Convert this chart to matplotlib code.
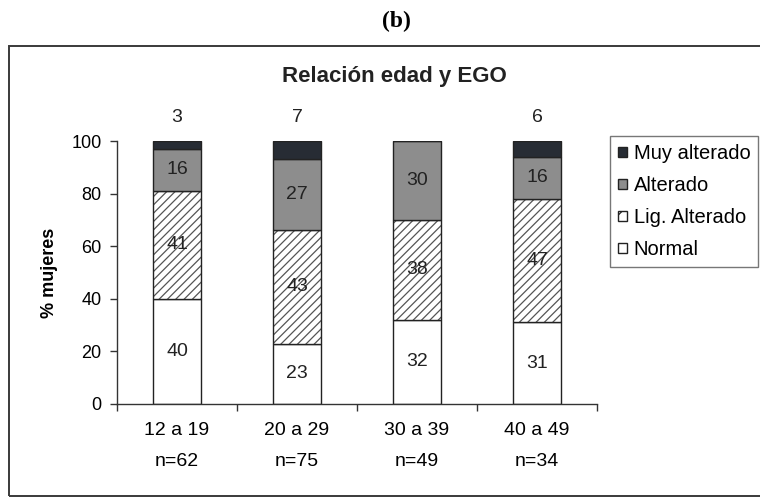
import matplotlib
matplotlib.use("Agg")
import matplotlib.pyplot as plt
from matplotlib.patches import Rectangle, Patch
import numpy as np

plt.rcParams['font.family'] = ['Liberation Sans', 'DejaVu Sans']
plt.rcParams['hatch.linewidth'] = 0.9

# Data: % of women by age group and EGO result
groups = ["12 a 19", "20 a 29", "30 a 39", "40 a 49"]
sizes = ["n=62", "n=75", "n=49", "n=34"]
normal = [40, 23, 32, 31]
lig_alterado = [41, 43, 38, 47]
alterado = [16, 27, 30, 16]
muy_alterado = [3, 7, 0, 6]

W, H = 760, 503
fig = plt.figure(figsize=(W / 100, H / 100), dpi=100)

# outer frame of the chart (right edge runs off the page)
fig.patches.append(Rectangle((9 / W, 1 - 496 / H), (770 - 9) / W, (496 - 46) / H,
                             transform=fig.transFigure, fill=False,
                             edgecolor="#3a3a3a", linewidth=1.4))

fig.text(396 / W, 1 - 21 / H, "(b)", ha="center", va="center",
         fontsize=17, fontweight="bold", family="Liberation Serif")
fig.text(394 / W, 1 - 82 / H, "Relación edad y EGO", ha="center", va="baseline",
         fontsize=16, fontweight="bold", color="#222222")

ax = fig.add_axes([117 / W, 1 - 404 / H, (597 - 117) / W, (404 - 141) / H])
x = np.arange(len(groups))
bw = 0.4

n = np.array(normal)
lg = np.array(lig_alterado)
al = np.array(alterado)
mu = np.array(muy_alterado)

edge = "#222222"
ax.bar(x, n, bw, color="white", edgecolor=edge, linewidth=1.0)
# hatched layer, then its outline
ax.bar(x, lg, bw, bottom=n, color="white", edgecolor="#555555", hatch="////", linewidth=0)
ax.bar(x, lg, bw, bottom=n, fill=False, edgecolor=edge, linewidth=1.0)
ax.bar(x, al, bw, bottom=n + lg, color="#8d8d8d", edgecolor=edge, linewidth=1.0)
ax.bar(x, mu, bw, bottom=n + lg + al, color="#272c34", edgecolor=edge, linewidth=1.0)

lab_kw = dict(ha="center", va="center", fontsize=14, color="#222222")
for i in range(len(groups)):
    ax.text(x[i], n[i] / 2, str(n[i]), **lab_kw)
    ax.text(x[i], n[i] + lg[i] / 2, str(lg[i]), **lab_kw)
    ax.text(x[i], n[i] + lg[i] + al[i] / 2, str(al[i]), **lab_kw)
    if mu[i] > 0:
        ax.text(x[i], 109, str(mu[i]), clip_on=False, **lab_kw)

ax.set_xlim(-0.5, len(groups) - 0.5)
ax.set_ylim(0, 100)
ax.set_yticks([0, 20, 40, 60, 80, 100])
ax.tick_params(axis="y", labelsize=13, length=5, width=1, color="#333333", pad=6)
ax.set_xticks(np.arange(-0.5, len(groups), 1.0))
ax.set_xticklabels([])
ax.set_xticks(x, minor=True)
ax.set_xticklabels([f"{g}\n{s}" for g, s in zip(groups, sizes)], minor=True)
ax.tick_params(axis="x", which="major", length=5, width=1, color="#333333")
ax.tick_params(axis="x", which="minor", length=0, labelsize=14, pad=13)
for lbl in ax.get_xticklabels(minor=True):
    lbl.set_linespacing(2.1)
ax.spines["top"].set_visible(False)
ax.spines["right"].set_visible(False)
for s in ("left", "bottom"):
    ax.spines[s].set_color("#333333")
    ax.spines[s].set_linewidth(1.0)
ax.set_ylabel("% mujeres", fontsize=13, fontweight="bold", labelpad=10)

handles = [
    Patch(facecolor="#272c34", edgecolor=edge, label="Muy alterado"),
    Patch(facecolor="#8d8d8d", edgecolor=edge, label="Alterado"),
    Patch(facecolor="white", edgecolor=edge, hatch="//", label="Lig. Alterado"),
    Patch(facecolor="white", edgecolor=edge, label="Normal"),
]
leg = fig.legend(handles=handles, loc="upper left", bbox_to_anchor=(610 / W, 1 - 136 / H),
                 fontsize=14.5, frameon=True, fancybox=False, handlelength=0.42,
                 handleheight=0.42, handletextpad=0.35, borderpad=0.4, labelspacing=0.65,
                 borderaxespad=0)
leg.get_frame().set_edgecolor("#555555")
leg.get_frame().set_linewidth(1.0)

fig.savefig("out.png", dpi=100)
